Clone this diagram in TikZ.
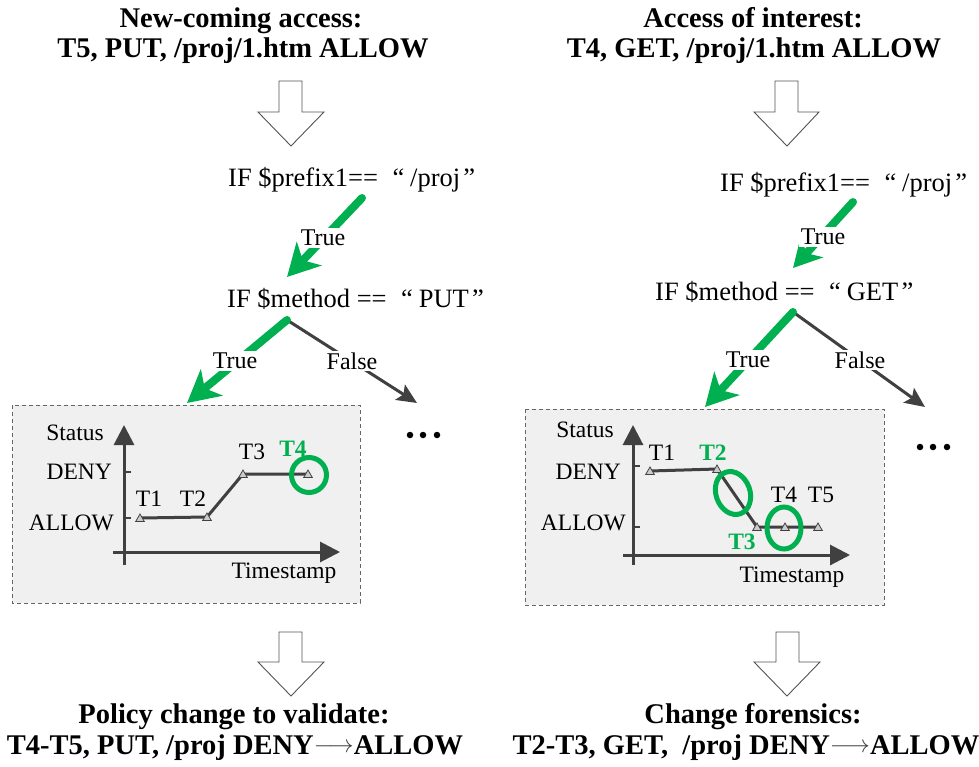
\documentclass[tikz,border=0pt]{standalone}
\usepackage{fontspec}
\setmainfont{Liberation Serif}
\usetikzlibrary{arrows.meta,shapes.geometric}
\definecolor{gr}{HTML}{00B050}
\definecolor{dk}{HTML}{404040}
\definecolor{bx}{HTML}{F0F0F0}
\newcommand{\myarr}{{\color{dk}\raisebox{2pt}{\fontsize{23}{23}\selectfont$\longrightarrow$}}}
\newcommand{\myoq}{\hspace{0.55em}“\hspace{0.22em}}
\newcommand{\mycq}{\hspace{0.12em}”\hspace{0.3em}}
\begin{document}
\begin{tikzpicture}[x=1pt,y=-1pt,
  head/.style={font=\fontsize{28.5}{30}\selectfont\bfseries, inner sep=0pt, anchor=base},
  cond/.style={font=\fontsize{26.5}{28}\selectfont, inner sep=0pt, anchor=base west},
  lbl/.style={font=\fontsize{24}{26}\selectfont, inner sep=2pt, fill=white},
  clbl/.style={font=\fontsize{23.5}{25}\selectfont, inner sep=0pt},
  glbl/.style={clbl, text=gr, font=\fontsize{23.5}{25}\selectfont\bfseries},
  hollow/.style={draw=dk!90, fill=white, line width=0.9pt, line join=miter},
  garrow/.style={draw=gr, line width=8pt, line cap=round, -{Stealth[length=32pt,width=34pt,inset=9pt]}},
  darrow/.style={draw=dk, line width=3pt, -{Stealth[length=20pt,width=18pt,inset=4pt]}},
  chartbox/.style={draw=dk!80, dash pattern=on 4pt off 3pt, line width=1pt, fill=bx},
  axis/.style={draw=dk, line width=3pt, -{Triangle[length=20pt,width=20pt]}},
  tick/.style={draw=dk, line width=2pt},
  series/.style={draw=dk, line width=3pt, line join=round},
  marker/.style={regular polygon, regular polygon sides=3, draw=dk, fill=gray!40, line width=0.8pt, minimum size=10pt, inner sep=0pt},
  ring/.style={draw=gr, line width=5pt},
  dot/.style={circle, fill=black, minimum size=6.5pt, inner sep=0pt}
]
\useasboundingbox (0,0) rectangle (979,766);

% ---------- headings ----------
\node[head] (h1a) at (241,27) {New-coming access:};
\node[head] (h1b) at (243,57) {T5, PUT, /proj/1.htm ALLOW};
\node[head] (h2a) at (753,27) {Access of interest:};
\node[head] (h2b) at (754,57) {T4, GET, /proj/1.htm ALLOW};

% ---------- hollow arrows ----------
\draw[hollow] (279,81) -- (302,81) -- (302,112) -- (324,112) -- (291,146) -- (258,112) -- (279,112) -- cycle;
\draw[hollow] (775,81) -- (798,81) -- (798,112) -- (819,112) -- (787,146) -- (754,112) -- (775,112) -- cycle;
\draw[hollow] (279,632) -- (302,632) -- (302,662) -- (324,662) -- (291,696) -- (258,662) -- (279,662) -- cycle;
\draw[hollow] (776,632) -- (799,632) -- (799,662) -- (820,662) -- (787,696) -- (754,662) -- (776,662) -- cycle;

% ---------- left decision tree ----------
\node[cond] (lp) at (228,186) {IF \$prefix1==\myoq/proj\mycq};
\node[cond] (lm) at (227,307) {IF \$method ==\myoq PUT\mycq};
\coordinate (lps) at (362,198);
\coordinate (lmt) at (287,277);
\draw[garrow] (lps) -- (lmt);
\node[lbl] (lt1) at (323,238) {True};
\coordinate (lms) at (287,320);
\coordinate (lbt) at (187,403);
\coordinate (lft) at (417,403);
\draw[darrow] (lms) -- (lft);
\draw[garrow] (lms) -- (lbt);
\node[lbl] (lt2) at (235,361) {True};
\node[lbl] (lf2) at (352,361) {False};
\node[dot] (ld1) at (410,435) {};
\node[dot] (ld2) at (423,435) {};
\node[dot] (ld3) at (437,435) {};

% ---------- left chart ----------
\draw[chartbox] (12,405) rectangle (360,603);
\coordinate (lyo) at (124,565);
\coordinate (lyt) at (124,425);
\coordinate (lxo) at (113,552);
\coordinate (lxt) at (340,552);
\draw[axis] (lyo) -- (lyt);
\draw[axis] (lxo) -- (lxt);
\draw[tick] (124,472) -- (131,472);
\draw[tick] (124,518) -- (131,518);
\node[clbl] (lst) at (75,433) {Status};
\node[clbl, anchor=east] (lden) at (112,472) {DENY};
\node[clbl, anchor=east] (lall) at (114,523) {ALLOW};
\node[clbl] (lts) at (284,573) {Timestamp};
\coordinate (lp1) at (140,518);
\coordinate (lp2) at (207,517);
\coordinate (lp3) at (243,474);
\coordinate (lp4) at (308,474);
\draw[series] (lp1) -- (lp2) -- (lp3) -- (lp4);
\foreach \p in {lp1,lp2,lp3,lp4} \node[marker] at ([yshift=-1pt]\p) {};
\node[clbl] (lT1) at (149,499) {T1};
\node[clbl] (lT2) at (193,499) {T2};
\node[clbl] (lT3) at (252,452) {T3};
\node[glbl] (lT4) at (293,449) {T4};
\draw[ring] (309,475) circle [radius=17.5];

% ---------- right decision tree ----------
\node[cond] (rp) at (720,191) {IF \$prefix1==\myoq/proj\mycq};
\node[cond] (rm) at (655,300) {IF \$method ==\myoq GET\mycq};
\coordinate (rps) at (853,202);
\coordinate (rmt) at (793,268);
\draw[garrow, -{Stealth[length=28pt,width=30pt,inset=8pt]}] (rps) -- (rmt);
\node[lbl] (rt1) at (823,237) {True};
\coordinate (rms) at (793,312);
\coordinate (rbt) at (705,407);
\coordinate (rft) at (925,407);
\draw[darrow] (rms) -- (rft);
\draw[garrow] (rms) -- (rbt);
\node[lbl] (rt2) at (748,360) {True};
\node[lbl] (rf2) at (860,360) {False};
\node[dot] (rd1) at (920,447) {};
\node[dot] (rd2) at (933,447) {};
\node[dot] (rd3) at (947,447) {};

% ---------- right chart ----------
\draw[chartbox] (525,409) rectangle (884,605);
\coordinate (ryo) at (633,565);
\coordinate (ryt) at (633,425);
\coordinate (rxo) at (623,555);
\coordinate (rxt) at (850,555);
\draw[axis] (ryo) -- (ryt);
\draw[axis] (rxo) -- (rxt);
\draw[tick] (633,466) -- (640,466);
\draw[tick] (633,527) -- (640,527);
\node[clbl] (rst) at (585,430) {Status};
\node[clbl, anchor=east] (rden) at (621,472) {DENY};
\node[clbl, anchor=east] (rall) at (626,523) {ALLOW};
\node[clbl] (rts) at (792,577) {Timestamp};
\coordinate (rp1) at (650,471);
\coordinate (rp2) at (717,469);
\coordinate (rp3) at (757,527);
\coordinate (rp4) at (785,527);
\coordinate (rp5) at (818,527);
\draw[series] (rp1) -- (rp2) -- (rp3) -- (rp5);
\foreach \p in {rp1,rp2,rp3,rp4,rp5} \node[marker] at ([yshift=-1pt]\p) {};
\node[clbl] (rT1) at (662,453) {T1};
\node[glbl] (rT2) at (713,453) {T2};
\node[glbl] (rT3) at (742,542) {T3};
\node[clbl] (rT4) at (784,495) {T4};
\node[clbl] (rT5) at (821,495) {T5};
\draw[ring, rotate around={20:(733,493)}] (733,493) ellipse [x radius=17, y radius=22];
\draw[ring] (784,528) ellipse [x radius=17, y radius=21];

% ---------- results ----------
\node[head] (b1a) at (234,723) {Policy change to validate:};
\node[head] (b1b) at (235,754) {T4-T5, PUT, /proj DENY\myarr ALLOW};
\node[head] (b2a) at (753,723) {Change forensics:};
\node[head] (b2b) at (746,754) {T2-T3, GET,\ \ /proj DENY\myarr ALLOW};
\end{tikzpicture}
\end{document}
